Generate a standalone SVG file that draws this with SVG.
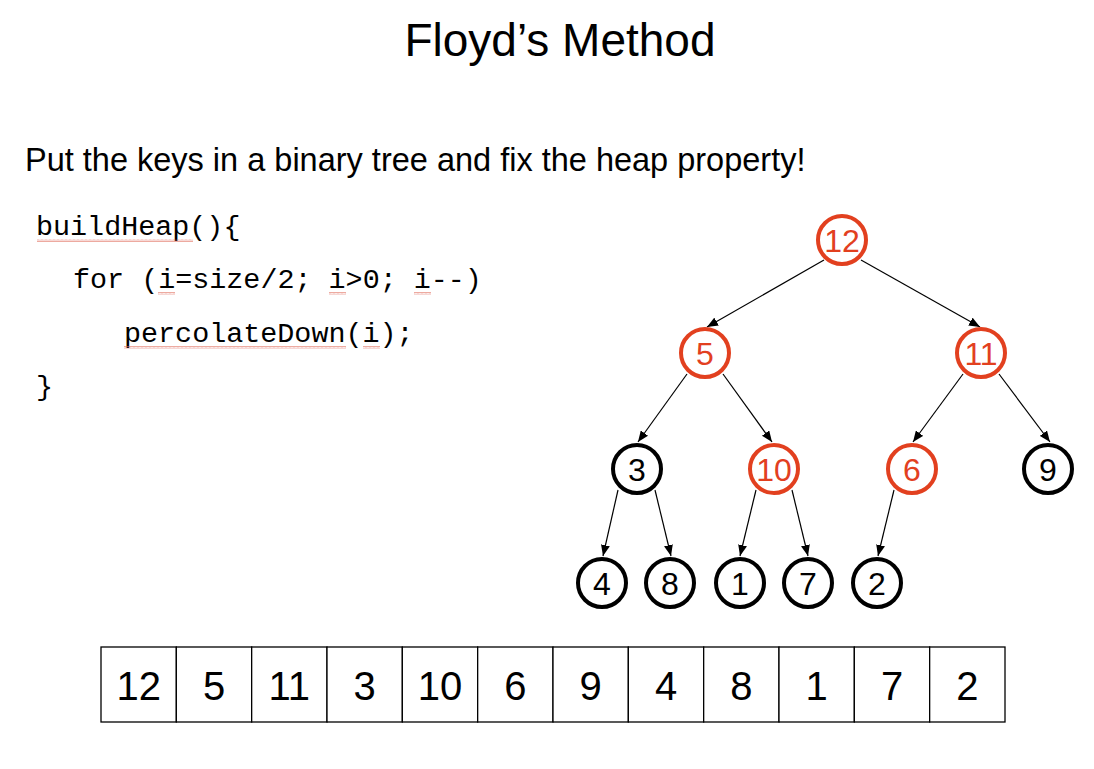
<svg xmlns="http://www.w3.org/2000/svg" width="1094" height="769" viewBox="0 0 1094 769">
<defs>
<style>
.title{font-family:"Liberation Sans",Arial,sans-serif;font-size:46px;fill:#000}
.sub{font-family:"Liberation Sans",Arial,sans-serif;font-size:32.5px;fill:#000}
.code{font-family:"Liberation Mono","Courier New",monospace;font-size:28.4px;fill:#000}
.n circle{fill:#fff;stroke-width:4}
.blk circle{stroke:#000}
.red circle{stroke:#E2401F}
.n text{font-family:"Liberation Sans",Arial,sans-serif;font-size:32px;text-anchor:middle}
.blk text{fill:#000}
.red text{fill:#E2401F}
.edge{stroke:#000;stroke-width:1.2;fill:none;marker-end:url(#ah)}
.cell{fill:#fff;stroke:#000;stroke-width:1.3}
.ct{font-family:"Liberation Sans",Arial,sans-serif;font-size:40px;fill:#000;text-anchor:middle}
</style>
<marker id="ah" markerUnits="userSpaceOnUse" markerWidth="11" markerHeight="9" refX="11" refY="4.5" orient="auto">
<path d="M0,0 L11,4.5 L0,9 z" fill="#000"/>
</marker>
<pattern id="wv" width="4" height="3" patternUnits="userSpaceOnUse">
<path d="M0,2.5 L1,0.5 L2,2.5 L3,0.5 L4,2.5" fill="none" stroke="#E07060" stroke-width="0.6"/>
</pattern>
</defs>
<rect width="1094" height="769" fill="#fff"/>

<text class="title" x="560" y="56" text-anchor="middle">Floyd’s Method</text>
<text class="sub" x="25" y="171">Put the keys in a binary tree and fix the heap property!</text>

<g id="code">
<text class="code" x="36" y="235">buildHeap(){</text>
<text class="code" x="73" y="288">for (i=size/2; i&gt;0; i--)</text>
<text class="code" x="124" y="342">percolateDown(i);</text>
<text class="code" x="36" y="395">}</text>
<rect x="37" y="239" width="156" height="3" fill="url(#wv)"/>
<rect x="158" y="292" width="17" height="3" fill="url(#wv)"/>
<rect x="329" y="292" width="17" height="3" fill="url(#wv)"/>
<rect x="414" y="292" width="17" height="3" fill="url(#wv)"/>
<rect x="124" y="346" width="222" height="3" fill="url(#wv)"/>
<rect x="363" y="346" width="17" height="3" fill="url(#wv)"/>
</g>

<g id="connectors">
<line class="edge" x1="824" y1="260" x2="707" y2="327"/>
<line class="edge" x1="861" y1="260" x2="980" y2="327"/>
<line class="edge" x1="687" y1="374" x2="638" y2="442"/>
<line class="edge" x1="723" y1="374" x2="772" y2="442"/>
<line class="edge" x1="963" y1="374" x2="913" y2="442"/>
<line class="edge" x1="999" y1="374" x2="1050" y2="442"/>
<line class="edge" x1="618" y1="490" x2="603" y2="556"/>
<line class="edge" x1="655" y1="490" x2="671" y2="556"/>
<line class="edge" x1="756" y1="490" x2="740" y2="556"/>
<line class="edge" x1="792" y1="490" x2="808" y2="556"/>
<line class="edge" x1="894" y1="490" x2="878" y2="556"/>
</g>

<g id="n12" class="n red"><circle cx="842" cy="240" r="24"/><text x="842" y="251.5">12</text></g>
<g id="n5" class="n red"><circle cx="705" cy="353" r="24"/><text x="705" y="364.5">5</text></g>
<g id="n11" class="n red"><circle cx="981" cy="353" r="24"/><text x="981" y="364.5">11</text></g>
<g id="n3" class="n blk"><circle cx="637" cy="469" r="24"/><text x="637" y="480.5">3</text></g>
<g id="n10" class="n red"><circle cx="774" cy="469" r="24"/><text x="774" y="480.5">10</text></g>
<g id="n6" class="n red"><circle cx="912" cy="469" r="24"/><text x="912" y="480.5">6</text></g>
<g id="n9" class="n blk"><circle cx="1048" cy="469" r="24"/><text x="1048" y="480.5">9</text></g>
<g id="n4" class="n blk"><circle cx="602" cy="583" r="24"/><text x="602" y="594.5">4</text></g>
<g id="n8" class="n blk"><circle cx="670" cy="583" r="24"/><text x="670" y="594.5">8</text></g>
<g id="n1" class="n blk"><circle cx="740" cy="583" r="24"/><text x="740" y="594.5">1</text></g>
<g id="n7" class="n blk"><circle cx="808" cy="583" r="24"/><text x="808" y="594.5">7</text></g>
<g id="n2" class="n blk"><circle cx="877" cy="583" r="24"/><text x="877" y="594.5">2</text></g>

<g id="array">
<rect class="cell" x="101" y="647" width="75.33" height="75"/>
<rect class="cell" x="176.33" y="647" width="75.33" height="75"/>
<rect class="cell" x="251.67" y="647" width="75.33" height="75"/>
<rect class="cell" x="327" y="647" width="75.33" height="75"/>
<rect class="cell" x="402.33" y="647" width="75.33" height="75"/>
<rect class="cell" x="477.67" y="647" width="75.33" height="75"/>
<rect class="cell" x="553" y="647" width="75.33" height="75"/>
<rect class="cell" x="628.33" y="647" width="75.33" height="75"/>
<rect class="cell" x="703.67" y="647" width="75.33" height="75"/>
<rect class="cell" x="779" y="647" width="75.33" height="75"/>
<rect class="cell" x="854.33" y="647" width="75.33" height="75"/>
<rect class="cell" x="929.67" y="647" width="75.33" height="75"/>
<text class="ct" x="138.7" y="700">12</text>
<text class="ct" x="214" y="700">5</text>
<text class="ct" x="289.3" y="700">11</text>
<text class="ct" x="364.7" y="700">3</text>
<text class="ct" x="440" y="700">10</text>
<text class="ct" x="515.3" y="700">6</text>
<text class="ct" x="590.7" y="700">9</text>
<text class="ct" x="666" y="700">4</text>
<text class="ct" x="741.3" y="700">8</text>
<text class="ct" x="816.7" y="700">1</text>
<text class="ct" x="892" y="700">7</text>
<text class="ct" x="967.3" y="700">2</text>
</g>
</svg>
